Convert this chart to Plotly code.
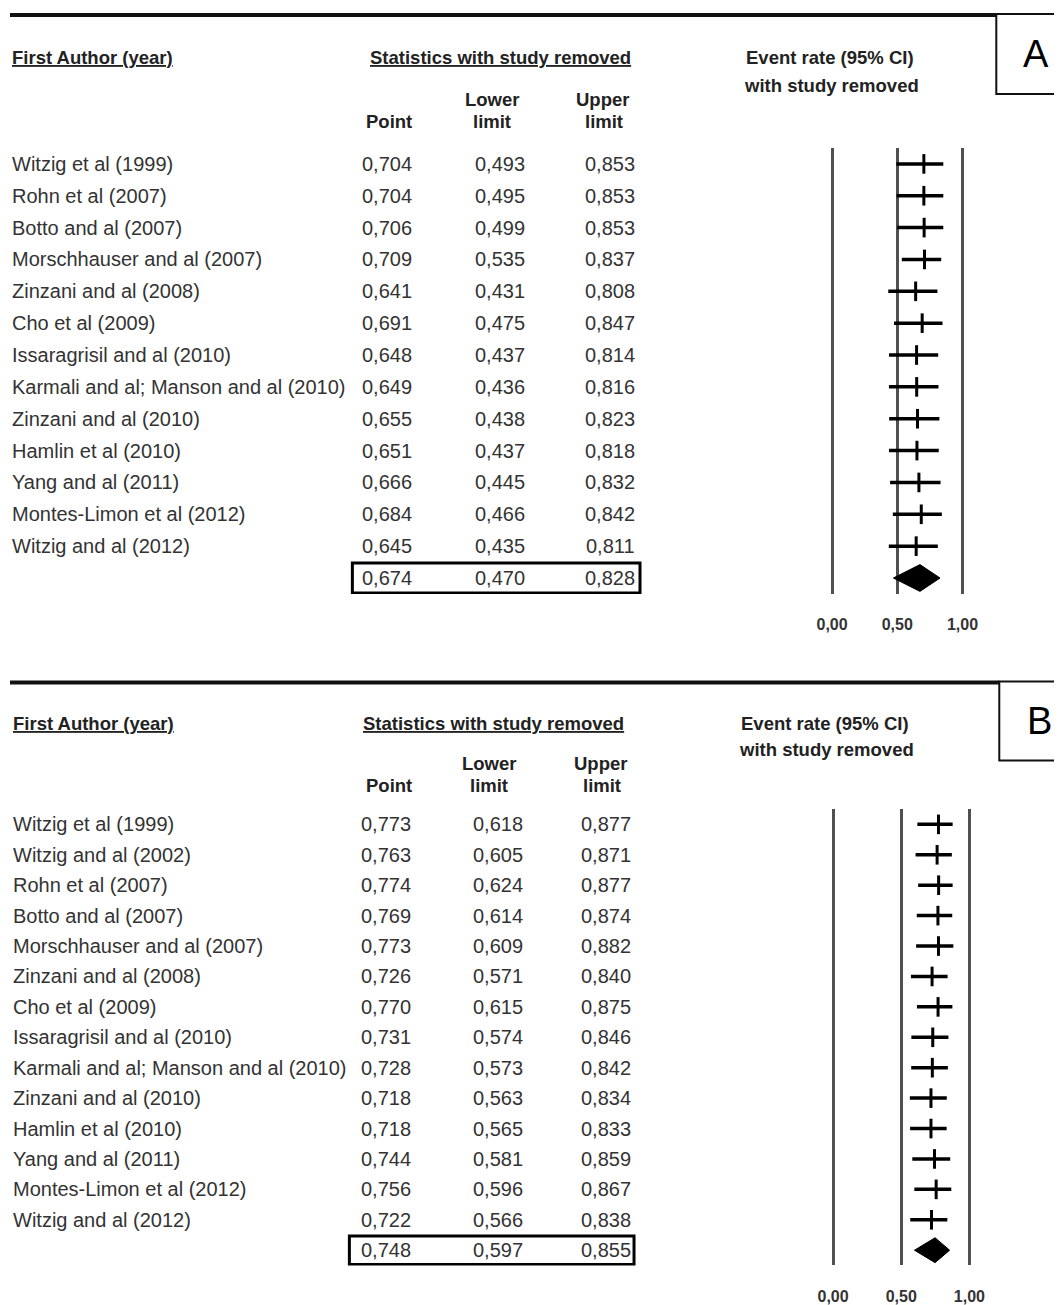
import plotly.graph_objects as go

# Panel A - event rate with each study removed
authors_a = ["Witzig et al (1999)", "Rohn et al (2007)", "Botto and al (2007)",
             "Morschhauser and al (2007)", "Zinzani and al (2008)", "Cho et al (2009)",
             "Issaragrisil and al (2010)", "Karmali and al; Manson and al (2010)",
             "Zinzani and al (2010)", "Hamlin et al (2010)", "Yang and al (2011)",
             "Montes-Limon et al (2012)", "Witzig and al (2012)"]
point_a = [0.704, 0.704, 0.706, 0.709, 0.641, 0.691, 0.648, 0.649, 0.655, 0.651, 0.666, 0.684, 0.645]
lower_a = [0.493, 0.495, 0.499, 0.535, 0.431, 0.475, 0.437, 0.436, 0.438, 0.437, 0.445, 0.466, 0.435]
upper_a = [0.853, 0.853, 0.853, 0.837, 0.808, 0.847, 0.814, 0.816, 0.823, 0.818, 0.832, 0.842, 0.811]
summary_a = [0.674, 0.470, 0.828]

# Panel B
authors_b = ["Witzig et al (1999)", "Witzig and al (2002)", "Rohn et al (2007)",
             "Botto and al (2007)", "Morschhauser and al (2007)", "Zinzani and al (2008)",
             "Cho et al (2009)", "Issaragrisil and al (2010)",
             "Karmali and al; Manson and al (2010)", "Zinzani and al (2010)",
             "Hamlin et al (2010)", "Yang and al (2011)", "Montes-Limon et al (2012)",
             "Witzig and al (2012)"]
point_b = [0.773, 0.763, 0.774, 0.769, 0.773, 0.726, 0.770, 0.731, 0.728, 0.718, 0.718, 0.744, 0.756, 0.722]
lower_b = [0.618, 0.605, 0.624, 0.614, 0.609, 0.571, 0.615, 0.574, 0.573, 0.563, 0.565, 0.581, 0.596, 0.566]
upper_b = [0.877, 0.871, 0.877, 0.874, 0.882, 0.840, 0.875, 0.846, 0.842, 0.834, 0.833, 0.859, 0.867, 0.838]
summary_b = [0.748, 0.597, 0.855]

axis_ticks = [0, 0.5, 1.0]
axis_labels = ["0,00", "0,50", "1,00"]

# page has an 8px body margin, so the figure is a bit smaller than the window
OFF = 8
W, H = 1062 - OFF, 1305 - OFF
FONT = "Liberation Sans, Arial, sans-serif"
TXT = "#333"


def px(x):
    return (x - OFF) / W


def py(y):
    return 1 - (y - OFF) / H


def fmt(v):
    return f"{v:.3f}".replace(".", ",")


fig = go.Figure()
annotations = []
shapes = []


def text(x, y, s, xanchor="left", size=18.5, bold=True, yref="paper", color="#222"):
    if xanchor == "left":
        x -= 3  # annotation box padding
    annotations.append(dict(
        x=px(x), y=py(y) if yref == "paper" else y, xref="paper", yref=yref,
        text=f"<b>{s}</b>" if bold else s, showarrow=False,
        xanchor=xanchor, yanchor="middle",
        font=dict(family=FONT, size=size, color=color)))


def panel(authors, point, lower, upper, summary, cfg):
    n = len(authors)
    yref = cfg["y"]
    xref = cfg["x"]

    # forest: point estimate with CI
    fig.add_trace(go.Scatter(
        x=point, y=list(range(n)), mode="markers", xaxis=xref, yaxis=yref,
        marker=dict(symbol="line-ns", size=cfg["tick"], line=dict(width=3, color="black")),
        error_x=dict(type="data", symmetric=False,
                     array=[u - p for u, p in zip(upper, point)],
                     arrayminus=[p - l for p, l in zip(point, lower)],
                     width=0, thickness=3.5, color="black"),
        cliponaxis=False, showlegend=False))
    # summary diamond
    p, lo, up = summary
    h = cfg["dh"]
    fig.add_trace(go.Scatter(
        x=[lo, p, up, p, lo], y=[n, n - h, n, n + h, n], mode="lines",
        fill="toself", fillcolor="black", line=dict(color="black", width=1),
        xaxis=xref, yaxis=yref, showlegend=False))

    # table rows
    for i in range(n):
        text(cfg["name_x"], i, authors[i], bold=False, size=20, yref=yref, color=TXT)
        text(cfg["cols"][0], i, fmt(point[i]), "center", 20, False, yref, TXT)
        text(cfg["cols"][1], i, fmt(lower[i]), "center", 20, False, yref, TXT)
        text(cfg["cols"][2], i, fmt(upper[i]), "center", 20, False, yref, TXT)
    for c, v in zip(cfg["cols"], summary):
        text(c, n, fmt(v), "center", 20, False, yref, TXT)
    bx0, bx1 = cfg["sbox"]
    shapes.append(dict(type="rect", xref="paper", yref=yref, x0=px(bx0), x1=px(bx1),
                       y0=n - 0.47, y1=n + 0.47, line=dict(color="black", width=3)))

    # headers
    hy = cfg["hy"]
    text(cfg["name_x"], hy[0], "<u>First Author (year)</u>")
    text(cfg["stat_x"], hy[0], "<u>Statistics with study removed</u>")
    text(cfg["hdr"][0], hy[2], "Point", "center")
    text(cfg["hdr"][1], hy[1], "Lower", "center")
    text(cfg["hdr"][1], hy[2], "limit", "center")
    text(cfg["hdr"][2], hy[1], "Upper", "center")
    text(cfg["hdr"][2] + 2, hy[2], "limit", "center")
    text(cfg["ev_x"], hy[0], "Event rate (95% CI)")
    text(cfg["ev_x"] - 2, cfg["ev_y2"], "with study removed")

    # top rule and panel letter box
    ly, bx, by = cfg["line_y"], cfg["box_x"], cfg["box_y1"]
    shapes.append(dict(type="line", xref="paper", yref="paper", x0=0, x1=px(bx),
                       y0=py(ly + 1), y1=py(ly + 1), line=dict(color="#111", width=4)))
    shapes.append(dict(type="rect", xref="paper", yref="paper", x0=px(bx), x1=px(1080),
                       y0=py(ly), y1=py(by), line=dict(color="#111", width=2)))
    text(bx + 40, (ly + by) / 2, cfg["letter"], "center", 38, False, "paper", "black")


cfg_a = dict(x="x", y="y", tick=14, dh=0.42, name_x=11, cols=[387, 500, 611],
             sbox=(352, 641), hy=[58, 100, 122], stat_x=371, hdr=[389, 492, 603],
             ev_x=748, ev_y2=86, line_y=14, box_x=999, box_y1=94, letter="A")
cfg_b = dict(x="x2", y="y2", tick=14, dh=0.41, name_x=12, cols=[386, 498, 607],
             sbox=(349, 635), hy=[724, 764, 786], stat_x=364, hdr=[389, 489, 601],
             ev_x=743, ev_y2=750, line_y=682, box_x=1002, box_y1=761, letter="B")

panel(authors_a, point_a, lower_a, upper_a, summary_a, cfg_a)
panel(authors_b, point_b, lower_b, upper_b, summary_b, cfg_b)


def xaxis(x0, x1, anchor):
    # x0, x1: pixel positions of 0 and 1; range padded by 0.1 each side
    u = x1 - x0
    return dict(domain=[px(x0 - 0.1 * u), px(x1 + 0.1 * u)], range=[-0.1, 1.1],
                anchor=anchor, tickvals=axis_ticks,
                ticktext=[f"<b>{t}</b>" for t in axis_labels],
                showgrid=True, gridcolor="#505050", gridwidth=3, zeroline=False,
                showline=False, ticks="outside", ticklen=16, tickcolor="rgba(0,0,0,0)",
                tickfont=dict(family=FONT, size=16, color="#333"), fixedrange=True)


def yaxis(top, step, n, anchor):
    bottom = top + step * (n - 0.5)
    return dict(domain=[py(bottom), py(top - 0.5 * step)], range=[n - 0.5, -0.5],
                anchor=anchor, visible=False, fixedrange=True)


fig.update_layout(
    width=W, height=H, margin=dict(l=0, r=0, t=0, b=0),
    paper_bgcolor="white", plot_bgcolor="white",
    xaxis=xaxis(834, 965, "y"),
    yaxis=yaxis(164, 31.88, len(authors_a) + 1, "x"),
    xaxis2=xaxis(835, 972, "y2"),
    yaxis2=yaxis(825, 30.44, len(authors_b) + 1, "x2"),
    annotations=annotations, shapes=shapes,
)

fig.write_html("out.html")
